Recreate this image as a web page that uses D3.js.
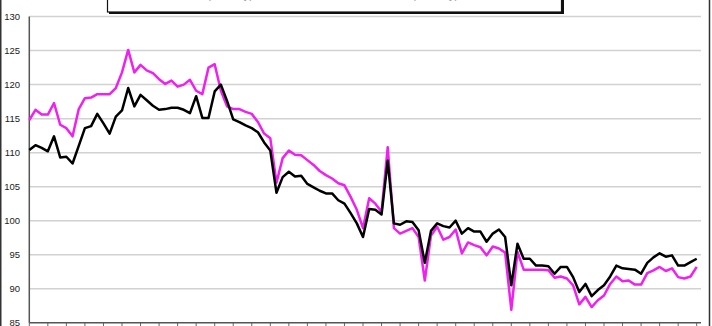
<!DOCTYPE html>
<html>
<head>
<meta charset="utf-8">
<script src="https://cdn.jsdelivr.net/npm/d3@7"></script>
<style>
  html, body { margin: 0; padding: 0; background: #fff; }
  svg { display: block; }
</style>
</head>
<body>
<svg id="chart" width="712" height="326"></svg>
<script>
// ---- data ----
const yTicks = [85, 90, 95, 100, 105, 110, 115, 120, 125, 130];
const seriesNames = ["Index A (monthly)", "Index B (monthly)"];
const blackValues = [
  110.4,111.1,110.7,110.2,112.4,109.3,109.4,108.4,111.0,113.6,
  113.9,115.7,114.3,112.8,115.3,116.2,119.5,116.8,118.5,117.7,
  116.9,116.3,116.4,116.6,116.6,116.3,115.8,118.3,115.1,115.1,
  119.0,120.0,117.6,114.9,114.5,114.0,113.6,113.0,111.5,110.3,
  104.1,106.4,107.2,106.5,106.6,105.4,104.9,104.4,104.0,104.0,
  103.0,102.5,101.1,99.6,97.6,101.7,101.6,100.9,108.8,99.6,
  99.4,99.9,99.8,98.6,93.8,98.5,99.6,99.2,99.0,100.0,
  98.1,98.9,98.4,98.4,96.9,98.1,98.7,97.6,90.5,96.6,
  94.4,94.4,93.4,93.4,93.3,92.2,93.2,93.2,91.7,89.5,
  90.7,88.9,89.8,90.5,91.8,93.4,93.0,92.9,92.8,92.2,
  93.8,94.6,95.2,94.7,94.9,93.4,93.4,93.9,94.4
];
const pinkValues = [
  114.8,116.3,115.6,115.6,117.3,114.1,113.6,112.4,116.4,118.0,
  118.1,118.6,118.6,118.6,119.5,121.8,125.1,121.8,122.9,122.1,
  121.7,120.8,120.1,120.6,119.7,120.0,120.7,119.1,118.6,122.5,
  123.0,119.1,116.8,116.4,116.4,116.0,115.7,114.5,112.8,112.1,
  105.6,109.2,110.3,109.7,109.6,108.9,108.2,107.3,106.7,106.2,
  105.5,105.2,103.5,101.6,98.9,103.3,102.5,101.3,110.8,98.9,
  98.1,98.5,98.9,97.6,91.2,97.8,99.1,97.2,97.6,98.7,
  95.2,96.8,96.4,96.1,94.9,96.2,95.9,95.3,86.9,95.4,
  92.8,92.8,92.8,92.8,92.7,91.6,91.8,91.5,90.5,87.7,
  88.8,87.3,88.3,89.0,90.7,91.8,91.1,91.2,90.6,90.6,
  92.3,92.7,93.2,92.6,93.0,91.7,91.5,91.8,93.2
];
const categories = blackValues.map((d, i) => i);

(function () {
// ---- layout ----
const svg = d3.select("#chart");
const pLeft = 29.3, pRight = 696.7, gridRight = 701, pTop = 16.6, pBottom = 322.7;

const x = d3.scaleLinear().domain([0, categories.length - 1]).range([pLeft, pRight]);
const y = d3.scaleLinear().domain([85, 130]).range([pBottom, pTop]);

// outer frame (left / right edges)
svg.append("line").attr("x1", 0.75).attr("x2", 0.75).attr("y1", 0).attr("y2", 326)
  .attr("stroke", "#333").attr("stroke-width", 1.5);
svg.append("line").attr("x1", 709.5).attr("x2", 709.5).attr("y1", 0).attr("y2", 326)
  .attr("stroke", "#333").attr("stroke-width", 1.5);

// gridlines
svg.append("g").selectAll("line").data(yTicks.filter(t => t !== 85)).join("line")
  .attr("x1", pLeft).attr("x2", gridRight)
  .attr("y1", d => y(d)).attr("y2", d => y(d))
  .attr("stroke", "#d2d2d2").attr("stroke-width", 1.5);

// y labels
svg.append("g").selectAll("text").data(yTicks).join("text")
  .attr("x", 20).attr("y", d => y(d)).attr("dy", "0.35em")
  .attr("text-anchor", "end")
  .attr("font-family", "Liberation Sans, Arial, sans-serif")
  .attr("font-size", 9.5).attr("fill", "#222")
  .text(d => d);

// x tick marks every 3 categories
svg.append("g").selectAll("line").data(categories.filter(i => i % 3 === 0)).join("line")
  .attr("x1", d => x(d)).attr("x2", d => x(d))
  .attr("y1", pBottom).attr("y2", 327)
  .attr("stroke", "#666").attr("stroke-width", 1);

// axes lines
svg.append("line").attr("x1", pLeft).attr("x2", pLeft).attr("y1", pTop).attr("y2", pBottom)
  .attr("stroke", "#555").attr("stroke-width", 1.5);
svg.append("line").attr("x1", pLeft).attr("x2", gridRight).attr("y1", pBottom).attr("y2", pBottom)
  .attr("stroke", "#555").attr("stroke-width", 1.5);

// series lines
const line = d3.line().x((d, i) => x(categories[i])).y(d => y(d));
svg.append("path").datum(pinkValues).attr("d", line)
  .attr("fill", "none").attr("stroke", "#f020f0").attr("stroke-width", 2.5)
  .attr("stroke-linejoin", "round");
svg.append("path").datum(blackValues).attr("d", line)
  .attr("fill", "none").attr("stroke", "#000").attr("stroke-width", 2.5)
  .attr("stroke-linejoin", "round");

// legend box (mostly cropped at top)
const lg = svg.append("g");
lg.append("rect").attr("x", 109).attr("y", -20).attr("width", 455).attr("height", 34)
  .attr("fill", "#111");
lg.append("rect").attr("x", 107.5).attr("y", -20).attr("width", 454).attr("height", 32)
  .attr("fill", "#fff").attr("stroke", "#111").attr("stroke-width", 1.2);
lg.append("text").attr("x", 168).attr("y", -1.5)
  .attr("font-family", "Liberation Sans, Arial, sans-serif").attr("font-size", 11).attr("fill", "#999")
  .text(seriesNames[0]);
lg.append("text").attr("x", 372).attr("y", -1.5)
  .attr("font-family", "Liberation Sans, Arial, sans-serif").attr("font-size", 11).attr("fill", "#999")
  .text(seriesNames[1]);
})();
</script>
</body>
</html>
